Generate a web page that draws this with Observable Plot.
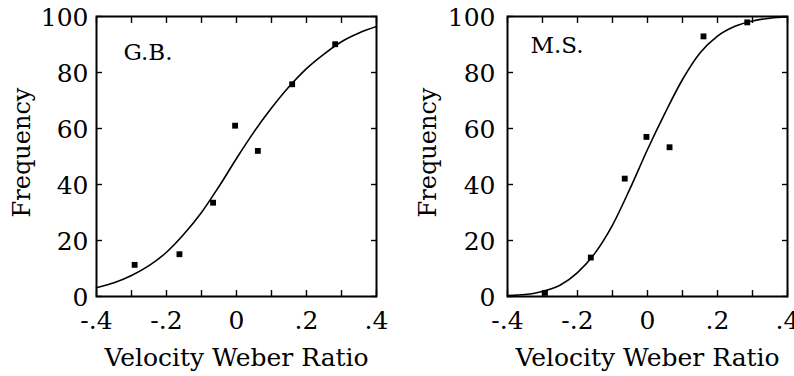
<!DOCTYPE html>
<html><head><meta charset="utf-8">
<script src="https://cdn.jsdelivr.net/npm/d3@7"></script>
<script src="https://cdn.jsdelivr.net/npm/@observablehq/plot@0.6"></script>
<style>
body{margin:0;background:#fff;}
#wrap{display:flex;width:794px;height:376px;overflow:hidden;}
svg{overflow:visible;display:block}
</style></head><body><div id="wrap"></div>
<script>
// ticks and labels
const xTickValues = [-0.4,-0.3,-0.2,-0.1,0,0.1,0.2,0.3,0.4];
const xLabelValues = [-0.4,-0.2,0,0.2,0.4];
const xTickLabels = ["-.4","-.2","0",".2",".4"];
const yTickValues = [0,20,40,60,80,100];
const yTickLabels = ["0","20","40","60","80","100"];
const xTitle = "Velocity Weber Ratio";
const yTitle = "Frequency";

// G.B. panel
const gbName = "G.B.";
const gbX = [-0.291,-0.163,-0.067,-0.004,0.061,0.159,0.282];
const gbY = [11.3,15.1,33.5,61.0,52.0,75.8,90.1];
// fitted curve
const curveX = [-0.40,-0.35,-0.30,-0.25,-0.20,-0.15,-0.10,-0.05,0.00,0.05,0.10,0.15,0.20,0.25,0.30,0.35,0.40];
const gbCurve = [3.1,4.9,7.5,11.0,15.8,22.3,30.0,39.3,49.3,58.8,67.3,74.9,81.4,86.6,91.0,94.1,96.4];

// M.S. panel
const msName = "M.S.";
const msX = [-0.293,-0.162,-0.065,-0.003,0.063,0.160,0.285];
const msY = [1.3,13.9,42.1,57.0,53.3,92.9,97.9];
const msCurve = [0.3,0.7,1.8,4.0,8.5,15.5,25.5,38.5,52.5,65.5,77.5,87.0,93.0,96.5,98.4,99.4,99.8];

const FONT = "'DejaVu Serif', serif";

function panel({name, px, py, cy, width, marginLeft, nameDx, nameDy, yTitleDx, yPad}) {
  const pts = px.map((x, i) => ({x, y: py[i]}));
  const crv = curveX.map((x, i) => ({x, y: cy[i]}));
  return Plot.plot({
    width, height: 376,
    marginLeft, marginRight: width - marginLeft - 280,
    marginTop: 16, marginBottom: 80,
    style: {fontFamily: FONT, fontSize: "25px", color: "#000", background: "#fff", overflow: "visible"},
    x: {domain: [-0.4, 0.4], label: null},
    y: {domain: [0, 100], label: null},
    marks: [
      Plot.axisX(xTickValues, {anchor: "bottom", tickSize: -6, tickFormat: () => "", strokeWidth: 1.4, label: null}),
      Plot.axisX(xTickValues, {anchor: "top", tickSize: -6, tickFormat: () => "", strokeWidth: 1.4, label: null}),
      Plot.axisY(yTickValues, {anchor: "left", tickSize: -6, tickFormat: () => "", strokeWidth: 1.4, label: null}),
      Plot.axisY(yTickValues, {anchor: "right", tickSize: -6, tickFormat: () => "", strokeWidth: 1.4, label: null}),
      Plot.axisX(xLabelValues, {anchor: "bottom", tickSize: 0, tickPadding: 15, label: null, fontSize: 25,
        tickFormat: d => xTickLabels[xLabelValues.indexOf(d)]}),
      Plot.axisY(yTickValues, {anchor: "left", tickSize: 0, tickPadding: yPad, dy: 1, label: null, fontSize: 25,
        tickFormat: d => yTickLabels[yTickValues.indexOf(d)]}),
      Plot.frame({stroke: "#000", strokeWidth: 2}),
      Plot.line(crv, {x: "x", y: "y", curve: "monotone-x", stroke: "#000", strokeWidth: 1.6}),
      Plot.dot(pts, {x: "x", y: "y", symbol: "square", r: 3.3, fill: "#000", stroke: null}),
      Plot.text([name], {frameAnchor: "top-left", dx: nameDx, dy: nameDy, textAnchor: "start", lineAnchor: "top", fontSize: 23}),
      Plot.text([xTitle], {frameAnchor: "bottom", dy: 61, textAnchor: "middle", lineAnchor: "middle", fontSize: 25}),
      Plot.text([yTitle], {frameAnchor: "left", dx: yTitleDx, dy: -4, rotate: -90, textAnchor: "middle", lineAnchor: "middle", fontSize: 24})
    ]
  });
}

const wrap = document.getElementById("wrap");
wrap.append(panel({name: gbName, px: gbX, py: gbY, cy: gbCurve, width: 400, marginLeft: 96, nameDx: 27, nameDy: 27, yTitleDx: -74, yPad: 8}));
wrap.append(panel({name: msName, px: msX, py: msY, cy: msCurve, width: 394, marginLeft: 107, nameDx: 23, nameDy: 20, yTitleDx: -79, yPad: 12}));
</script>
</body></html>
